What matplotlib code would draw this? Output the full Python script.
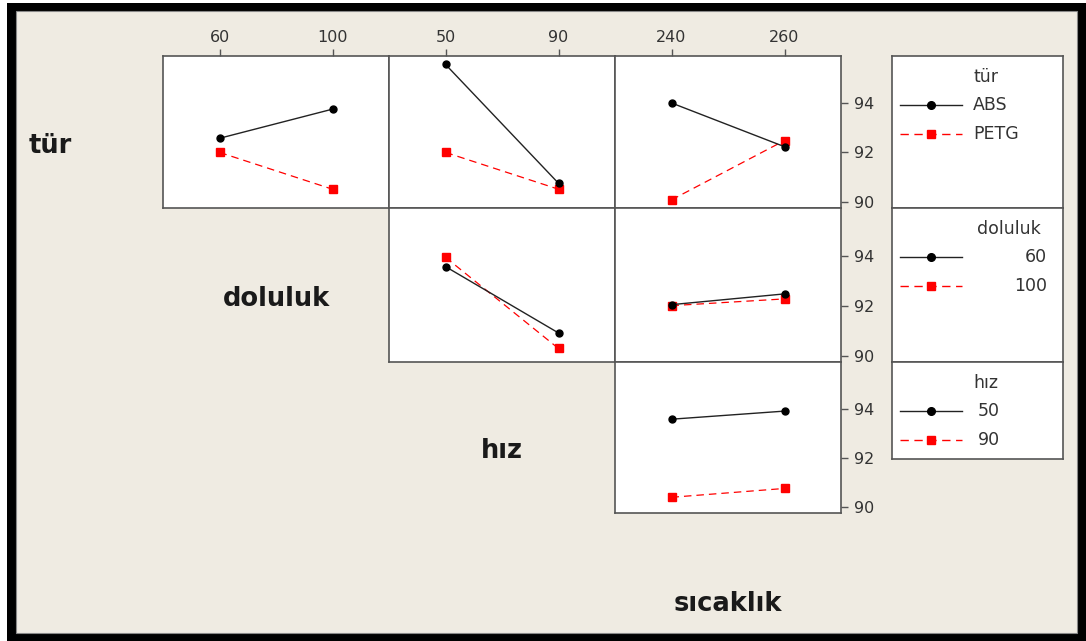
import matplotlib
matplotlib.use("Agg")
import matplotlib.pyplot as plt
from matplotlib.patches import Rectangle

# factors and their levels
factors = ["tür", "doluluk", "hız", "sıcaklık"]
tur_levels = ["ABS", "PETG"]
doluluk_levels = [60, 100]
hiz_levels = [50, 90]
sicaklik_levels = [240, 260]

# interaction means (row factor level -> values over column factor levels)
tur_doluluk_abs = [92.57, 93.75]
tur_doluluk_petg = [92.00, 90.51]
tur_hiz_abs = [95.56, 90.75]
tur_hiz_petg = [92.00, 90.51]
tur_sicaklik_abs = [94.00, 92.23]
tur_sicaklik_petg = [90.08, 92.48]
doluluk_hiz_60 = [93.56, 90.91]
doluluk_hiz_100 = [93.93, 90.29]
doluluk_sicaklik_60 = [92.04, 92.47]
doluluk_sicaklik_100 = [92.00, 92.27]
hiz_sicaklik_50 = [93.57, 93.90]
hiz_sicaklik_90 = [90.39, 90.75]

y_ticks = [90, 92, 94]

levels = [tur_levels, doluluk_levels, hiz_levels, sicaklik_levels]
series = {
    (0, 1): (tur_doluluk_abs, tur_doluluk_petg),
    (0, 2): (tur_hiz_abs, tur_hiz_petg),
    (0, 3): (tur_sicaklik_abs, tur_sicaklik_petg),
    (1, 2): (doluluk_hiz_60, doluluk_hiz_100),
    (1, 3): (doluluk_sicaklik_60, doluluk_sicaklik_100),
    (2, 3): (hiz_sicaklik_50, hiz_sicaklik_90),
}

W, H = 1086, 641
BG = "#efebe2"
EDGE = "#555555"
TXT = "#333333"

fig = plt.figure(figsize=(W / 100, H / 100), dpi=100)
fig.patch.set_facecolor("white")


def rect_px(x0, y0, x1, y1, **kw):
    fig.add_artist(Rectangle((x0 / W, 1 - y1 / H), (x1 - x0) / W, (y1 - y0) / H,
                             transform=fig.transFigure, **kw))


def axes_px(x0, y0, x1, y1):
    return fig.add_axes([x0 / W, 1 - y1 / H, (x1 - x0) / W, (y1 - y0) / H])


# black outer frame with beige canvas
rect_px(7, 3, 1086, 641, facecolor="black", edgecolor="none", zorder=0)
rect_px(16, 11, 1077, 633, facecolor=BG, edgecolor="#888888", linewidth=0.8, zorder=0)

col_x = [163 - 226, 163, 389, 615, 841]
row_y = [56, 208, 362, 513, 667]

black_style = dict(color="#222222", linestyle="-", linewidth=1.0,
                   marker="o", markersize=5, markerfacecolor="black",
                   markeredgecolor="black")
red_style = dict(color="red", linestyle=(0, (6, 4)), linewidth=0.9,
                 marker="s", markersize=5.5, markerfacecolor="red",
                 markeredgecolor="red")

for (r, c), (first, second) in series.items():
    ax = axes_px(col_x[c], row_y[r], col_x[c + 1], row_y[r + 1])
    xs = levels[c]
    lo, hi = xs[0], xs[1]
    span = hi - lo
    ax.plot(xs, first, **black_style, zorder=3)
    ax.plot(xs, second, **red_style, zorder=2)
    ax.set_xlim(lo - span / 2, hi + span / 2)
    ax.set_ylim(89.75, 95.9)
    ax.set_facecolor("white")
    for sp in ax.spines.values():
        sp.set_color(EDGE)
        sp.set_linewidth(1.2)
    ax.tick_params(colors=EDGE, labelcolor=TXT, labelsize=11.5,
                   length=5, width=1.0, direction="out")
    ax.set_xticks(xs)
    ax.set_yticks(y_ticks)
    ax.xaxis.set_ticks_position("top")
    ax.tick_params(axis="x", labeltop=(r == 0), top=(r == 0),
                   bottom=False, labelbottom=False, pad=3)
    ax.yaxis.set_ticks_position("right")
    ax.tick_params(axis="y", labelright=(c == 3), right=(c == 3),
                   left=False, labelleft=False, pad=4)

# factor names on the diagonal
for i, name in enumerate(factors):
    cx = (col_x[i] + col_x[i + 1]) / 2
    cy = (row_y[i] + row_y[i + 1]) / 2 + 14
    fig.text(cx / W, 1 - cy / H, name, ha="center", va="center",
             fontsize=18.5, fontweight="bold", color="#1a1a1a")

# legend column
leg_rows = [(56, 208), (208, 362), (362, 459)]
leg_titles = ["tür", "doluluk", "hız"]
for k, (y0, y1) in enumerate(leg_rows):
    lax = axes_px(892, y0, 1063, y1)
    lax.set_xlim(892, 1063)
    lax.set_ylim(y1, y0)
    lax.set_xticks([])
    lax.set_yticks([])
    lax.set_facecolor("white")
    for sp in lax.spines.values():
        sp.set_color(EDGE)
        sp.set_linewidth(1.2)
    ty = y0 + 21
    lax.text(973 if k != 1 else 977, ty, leg_titles[k], fontsize=12.5,
             color=TXT, ha="left", va="center")
    names = [str(v) for v in levels[k]]
    for j, (name, st) in enumerate(zip(names, (black_style, red_style))):
        yy = ty + 28 + j * 29
        lax.plot([900, 962], [yy, yy], color=st["color"],
                 linestyle=st["linestyle"], linewidth=1.0)
        lax.plot([931], [yy], linestyle="none", marker=st["marker"],
                 markersize=st["markersize"] + 0.5, color=st["markerfacecolor"])
        if k == 1:
            lax.text(1047, yy, name, fontsize=12.5, color=TXT,
                     ha="right", va="center")
        else:
            lax.text(973 if k == 0 else 978, yy, name, fontsize=12.5,
                     color=TXT, ha="left", va="center")

fig.savefig("out.png", dpi=100, facecolor=fig.get_facecolor())
